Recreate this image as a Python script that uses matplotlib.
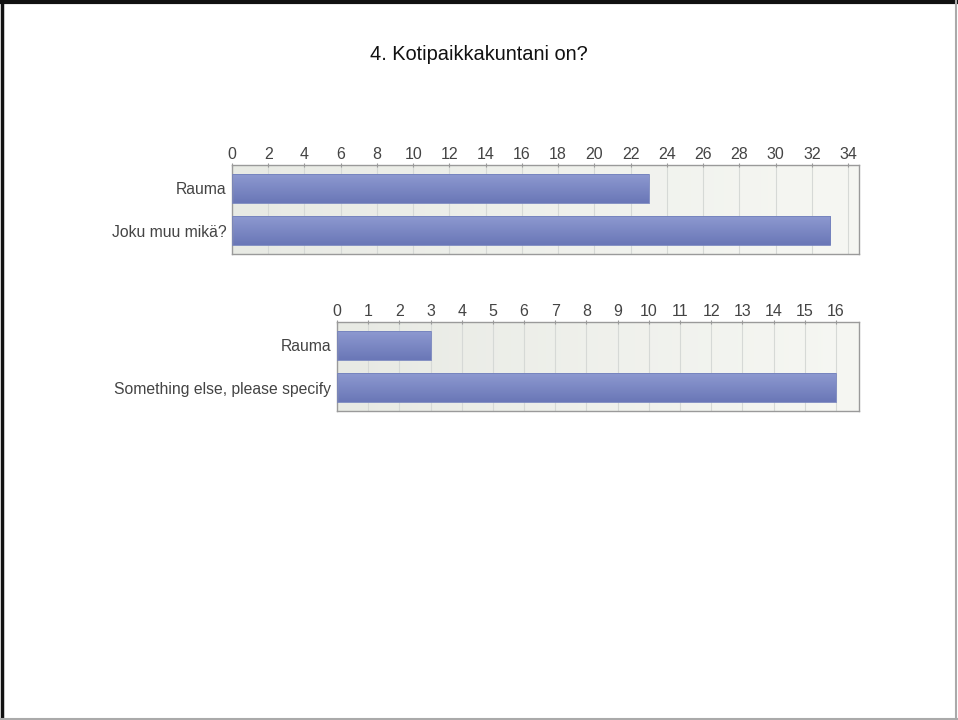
import numpy as np
import matplotlib
matplotlib.use('Agg')
import matplotlib.pyplot as plt
from matplotlib.lines import Line2D

plt.rcParams['font.family'] = ['Liberation Sans', 'DejaVu Sans']

title = "4. Kotipaikkakuntani on?"

# chart 1 (Finnish)
cats_fi = ["Rauma", "Joku muu mikä?"]
vals_fi = [23, 33]
ticks_fi = list(range(0, 35, 2))

# chart 2 (English)
cats_en = ["Rauma", "Something else, please specify"]
vals_en = [3, 16]
ticks_en = list(range(0, 17, 1))

W, H = 958, 720
fig = plt.figure(figsize=(W / 100, H / 100), dpi=100)


def px_axes(x0, y0, x1, y1):
    return fig.add_axes([x0 / W, 1 - y1 / H, (x1 - x0) / W, (y1 - y0) / H])


bg_grad = np.linspace(0.0, 1.0, 256).reshape(1, -1)
bg_cmap = matplotlib.colors.LinearSegmentedColormap.from_list('bg', ['#e8eae4', '#f6f7f3'])
# top of the bar lighter, bottom darker
bar_cmap = matplotlib.colors.LinearSegmentedColormap.from_list('bar', ['#8d99d0', '#6a77b7'])


def draw_chart(ax, cats, vals, ticks, xmax):
    n = len(cats)
    ax.set_xlim(0, xmax)
    ax.imshow(bg_grad, aspect='auto', cmap=bg_cmap, extent=[0, xmax, n - 0.45, -0.55], zorder=0)
    for t in ticks[1:]:
        ax.axvline(t, color='#d6d9d6', lw=0.8, zorder=1)
    h = 0.68
    bar_grad = np.linspace(0, 1, 64).reshape(-1, 1)
    for i, v in enumerate(vals):
        ax.imshow(bar_grad, aspect='auto', cmap=bar_cmap,
                  extent=[0, v, i + h / 2, i - h / 2], zorder=2)
        ax.add_patch(plt.Rectangle((0, i - h / 2), v, h, fill=False,
                                   ec='#7482bd', lw=0.6, zorder=3))
    ax.set_ylim(n - 0.45, -0.55)
    ax.set_yticks(range(n))
    ax.set_yticklabels(cats)
    ax.set_xticks(ticks)
    ax.xaxis.tick_top()
    ax.tick_params(axis='x', length=3, direction='inout', color='#999999',
                   labelsize=11.5, labelcolor='#444444', pad=1)
    ax.tick_params(axis='y', length=0, labelsize=11.3, labelcolor='#444444', pad=4)
    for s in ax.spines.values():
        s.set_color('#9a9a9a')
        s.set_linewidth(1.0)


ax1 = px_axes(232, 165, 859, 254)
draw_chart(ax1, cats_fi, vals_fi, ticks_fi, 34.6)

ax2 = px_axes(337, 322, 859, 411)
draw_chart(ax2, cats_en, vals_en, ticks_en, 16.74)

fig.text(479 / W, 1 - 55 / H, title, ha='center', va='center', fontsize=14.4, color='#111111')

# slide border
fig.add_artist(Line2D([0, 1], [1 - 2 / H, 1 - 2 / H], transform=fig.transFigure, color='#111111', lw=3))
fig.add_artist(Line2D([1.5 / W, 1.5 / W], [0, 1], transform=fig.transFigure, color='#111111', lw=2.5))
fig.add_artist(Line2D([1 - 2 / W, 1 - 2 / W], [0, 1], transform=fig.transFigure, color='#aaaaaa', lw=1.5))
fig.add_artist(Line2D([0, 1], [1.5 / H, 1.5 / H], transform=fig.transFigure, color='#aaaaaa', lw=1.5))

fig.savefig('out.png', dpi=100)
